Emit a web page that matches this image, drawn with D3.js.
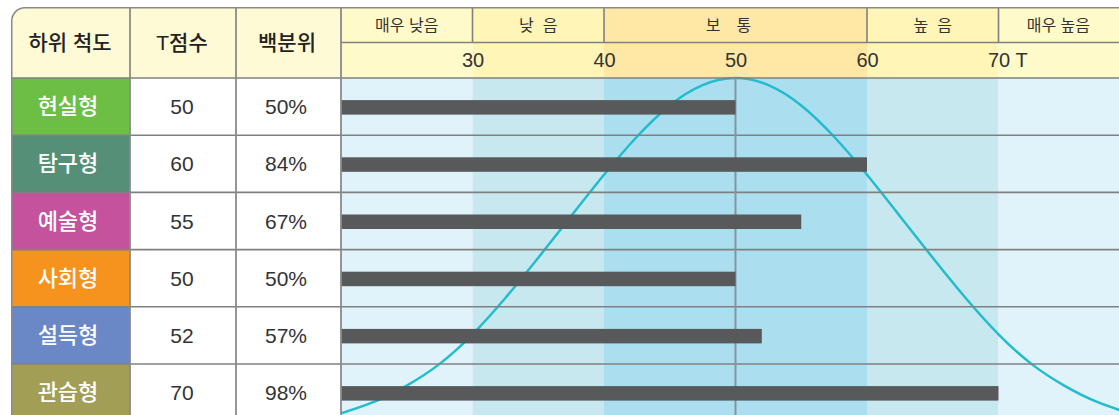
<!DOCTYPE html>
<html>
<head>
<meta charset="utf-8">
<script src="https://cdn.jsdelivr.net/npm/d3@7"></script>
<style>
  html, body { margin: 0; padding: 0; background: #fff; }
  svg { display: block; }
  text { font-family: 'Liberation Sans', 'Noto Sans CJK KR', sans-serif; }
</style>
</head>
<body>
<svg id="chart" width="1119" height="415"></svg>
<script>
// ---------- data ----------
const headers = ['하위 척도', 'T점수', '백분위'];
const categories = ['현실형', '탐구형', '예술형', '사회형', '설득형', '관습형'];
const tScores = [50, 60, 55, 50, 52, 70];
const percentiles = ['50%', '84%', '67%', '50%', '57%', '98%'];
const levelLabels = ['매우 낮음', '낮\u00a0\u00a0음', '보\u3000통', '높\u00a0\u00a0음', '매우 높음'];
const levelBounds = [20, 30, 40, 60, 70, 80];
const tickValues = [30, 40, 50, 60, 70];
const tickUnit = 'T';
// reference normal curve (relative height, 1 = peak)
const curveT = [20, 22.5, 25, 27.5, 30, 32.5, 35, 37.5, 40, 42.5, 45, 47.5, 50,
                52.5, 55, 57.5, 60, 62.5, 65, 67.5, 70, 72.5, 75, 77.5, 80];
const curveH = [0.058, 0.09, 0.136, 0.197, 0.28, 0.382, 0.495, 0.612, 0.728, 0.835, 0.923, 0.98, 1,
                0.98, 0.923, 0.835, 0.728, 0.612, 0.495, 0.382, 0.28, 0.197, 0.136, 0.09, 0.058];

// ---------- styles ----------
const categoryColors = ['#6dbe45', '#568f77', '#c4529c', '#f6921e', '#6a88c5', '#a29e56'];
const headYellow = ['#fffaca', '#fff5b6', '#ffe8a5', '#fff5b6', '#fffaca'];
const bandBlue = ['#e0f3fa', '#c8e8f0', '#abdff0', '#c8e8f0', '#e0f3fa'];
const lineGray = '#808080';

// ---------- layout ----------
const W = 1119, H = 415;
const leftX = 11, topY = 7;
const colX = [11, 130, 236, 341];
const headMid = 42.5, headBottom = 78;
const rowH = 57.2;

const svg = d3.select('#chart');

const x = d3.scaleLinear().domain([20, 80]).range([341, 341 + 60 * 13.15]);
const y = d3.scaleBand().domain(categories).range([headBottom, headBottom + rowH * categories.length]);
const yc = d3.scaleLinear().domain([0, 1]).range([434, headBottom]);

const defs = svg.append('defs');
defs.append('clipPath').attr('id', 'outer')
  .append('rect').attr('x', leftX).attr('y', topY).attr('width', 1400).attr('height', 700).attr('rx', 14);

const g = svg.append('g').attr('clip-path', 'url(#outer)');

// table header background
g.append('rect').attr('x', leftX).attr('y', topY).attr('width', colX[3] - leftX).attr('height', headBottom - topY)
  .attr('fill', '#fffad6');

// table body: category cells + white cells
categories.forEach((c, i) => {
  g.append('rect').attr('x', colX[0]).attr('y', y(c)).attr('width', colX[1] - colX[0]).attr('height', y.bandwidth())
    .attr('fill', categoryColors[i]);
  g.append('rect').attr('x', colX[1]).attr('y', y(c)).attr('width', colX[3] - colX[1]).attr('height', y.bandwidth())
    .attr('fill', '#fff');
});

// chart header bands (two rows) + body bands
const levels = levelLabels.map((l, i) => ({ label: l, lo: levelBounds[i], hi: levelBounds[i + 1], i }));
g.selectAll('rect.head1').data(levels).enter().append('rect')
  .attr('x', d => x(d.lo)).attr('y', topY).attr('width', d => x(d.hi) - x(d.lo)).attr('height', headMid - topY)
  .attr('fill', d => headYellow[d.i]);
g.selectAll('rect.head2').data(levels).enter().append('rect')
  .attr('x', d => x(d.lo)).attr('y', headMid).attr('width', d => x(d.hi) - x(d.lo)).attr('height', headBottom - headMid)
  .attr('fill', d => headYellow[d.i]);
g.selectAll('rect.band').data(levels).enter().append('rect')
  .attr('x', d => x(d.lo)).attr('y', headBottom).attr('width', d => x(d.hi) - x(d.lo)).attr('height', H - headBottom + 20)
  .attr('fill', d => bandBlue[d.i]);

// normal curve
const line = d3.line().x((d, i) => x(curveT[i])).y(d => yc(d)).curve(d3.curveNatural);
g.append('path').datum(curveH).attr('d', line)
  .attr('fill', 'none').attr('stroke', '#22bccd').attr('stroke-width', 2.5);

// horizontal row lines
const rowLines = categories.map(c => y(c)).concat([y(categories[categories.length - 1]) + y.bandwidth()]);
g.selectAll('line.row').data(rowLines).enter().append('line')
  .attr('x1', leftX).attr('x2', W).attr('y1', d => d).attr('y2', d => d)
  .attr('stroke', lineGray).attr('stroke-width', 1.6);
// header middle line (chart part)
g.append('line').attr('x1', colX[3]).attr('x2', W).attr('y1', headMid).attr('y2', headMid)
  .attr('stroke', lineGray).attr('stroke-width', 1.6);

// vertical line at mean
g.append('line').attr('x1', x(50)).attr('x2', x(50)).attr('y1', headBottom).attr('y2', H)
  .attr('stroke', '#8095a0').attr('stroke-width', 2);

// bars
g.selectAll('rect.bar').data(categories).enter().append('rect')
  .attr('x', x(20)).attr('y', d => y(d) + y.bandwidth() / 2 - 6.5)
  .attr('width', (d, i) => x(tScores[i]) - x(20)).attr('height', 14.5)
  .attr('fill', '#58595b');

// table column lines
[colX[1], colX[2], colX[3]].forEach(cx => {
  g.append('line').attr('x1', cx).attr('x2', cx).attr('y1', topY).attr('y2', H)
    .attr('stroke', '#8a8a8a').attr('stroke-width', 1.8);
});
// header top-row separators
levels.slice(1).forEach(d => {
  g.append('line').attr('x1', x(d.lo)).attr('x2', x(d.lo)).attr('y1', topY).attr('y2', headMid)
    .attr('stroke', lineGray).attr('stroke-width', 1.6);
});

// outer border
g.append('rect').attr('x', leftX).attr('y', topY).attr('width', 1400).attr('height', 700).attr('rx', 14)
  .attr('fill', 'none').attr('stroke', '#8a8a8a').attr('stroke-width', 3);

// header texts
const headCenters = [70, 182, 287];
headers.forEach((h, i) => {
  g.append('text').attr('x', headCenters[i]).attr('y', (topY + headBottom) / 2)
    .attr('text-anchor', 'middle').attr('dominant-baseline', 'central')
    .attr('font-size', 21).attr('font-weight', 500).attr('fill', '#222').text(h);
});

// level labels
g.selectAll('text.level').data(levels).enter().append('text')
  .attr('x', d => (x(d.lo) + x(Math.min(d.hi, 79.1))) / 2 + (d.i === 2 ? -7 : 0))
  .attr('y', (topY + headMid) / 2 + 1)
  .attr('text-anchor', 'middle').attr('dominant-baseline', 'central')
  .attr('font-size', 16).attr('fill', '#333').text(d => d.label);

// tick labels (axis)
const axis = d3.axisTop(x).tickValues(tickValues).tickSize(0).tickFormat(d3.format('d'));
const ax = g.append('g').attr('transform', `translate(0,${(headMid + headBottom) / 2})`).call(axis);
ax.select('.domain').remove();
ax.selectAll('text').attr('y', 0).attr('dy', null).attr('dominant-baseline', 'central')
  .attr('font-size', 20).attr('fill', '#333')
  .style('font-family', "'Liberation Sans', sans-serif");
g.append('text').attr('x', x(70) + 17).attr('y', (headMid + headBottom) / 2)
  .attr('dominant-baseline', 'central').attr('font-size', 20).attr('fill', '#333').text(tickUnit);

// table body texts
categories.forEach((c, i) => {
  const cy = y(c) + y.bandwidth() / 2;
  g.append('text').attr('x', 68).attr('y', cy).attr('text-anchor', 'middle').attr('dominant-baseline', 'central')
    .attr('font-size', 22).attr('font-weight', 500).attr('fill', '#fff').text(c);
  g.append('text').attr('x', 182).attr('y', cy).attr('text-anchor', 'middle').attr('dominant-baseline', 'central')
    .attr('font-size', 21).attr('fill', '#333').text(tScores[i]);
  g.append('text').attr('x', 286).attr('y', cy).attr('text-anchor', 'middle').attr('dominant-baseline', 'central')
    .attr('font-size', 21).attr('fill', '#333').text(percentiles[i]);
});
</script>
</body>
</html>
